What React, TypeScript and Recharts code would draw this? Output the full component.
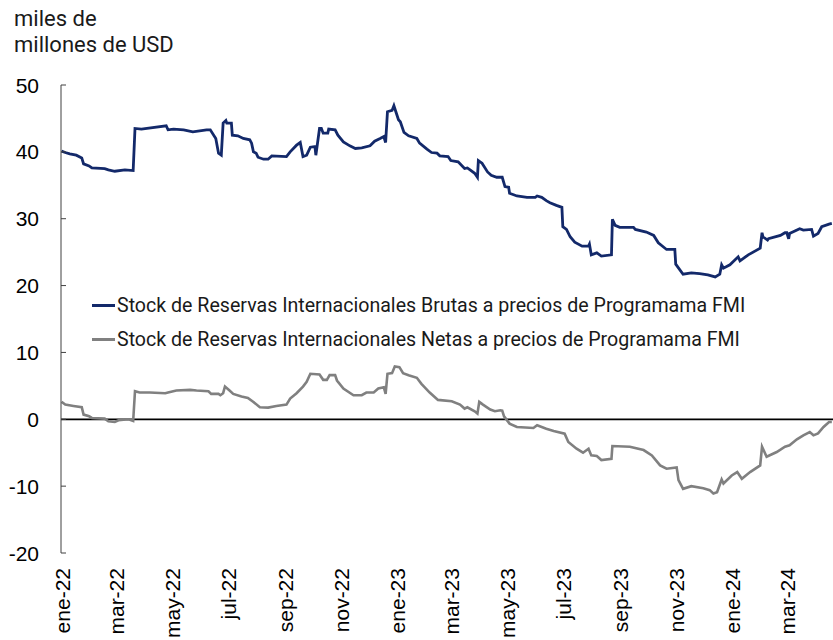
import React from 'react';
import { LineChart, Line, XAxis, YAxis, ReferenceLine, Legend } from 'recharts';

// Axis ticks: month labels (every 2 months) at days since 1 Jan 2022
const tickLabels = ['ene-22', 'mar-22', 'may-22', 'jul-22', 'sep-22', 'nov-22', 'ene-23', 'mar-23', 'may-23', 'jul-23', 'sep-23', 'nov-23', 'ene-24', 'mar-24'];
const tickDays = [0, 59, 120, 181, 243, 304, 365, 424, 485, 546, 608, 669, 730, 790];
const yTicks = [-20, -10, 0, 10, 20, 30, 40, 50];

const seriesNames = [
  'Stock de Reservas Internacionales Brutas a precios de Programama FMI',
  'Stock de Reservas Internacionales Netas a precios de Programama FMI',
];
const seriesColors = ['#13296a', '#808080'];

// Gross reserves (days since 1 Jan 2022, billions USD)
const brutasDays = [-1, 3, 8, 15, 21, 23, 29, 32, 46, 50, 57, 68, 77, 79, 86, 92, 113, 115, 121, 132, 142, 157, 161, 167, 170, 173, 175, 178, 179, 184, 185, 191, 197, 204, 206, 208, 211, 213, 219, 224, 228, 244, 248, 255, 259, 262, 266, 270, 275, 276, 280, 282, 284, 289, 290, 297, 300, 306, 313, 319, 326, 335, 340, 346, 350, 352, 354, 359, 361, 366, 368, 372, 377, 386, 389, 397, 402, 408, 411, 420, 423, 431, 438, 441, 444, 449, 452, 453, 457, 463, 467, 473, 479, 482, 486, 487, 495, 506, 515, 517, 522, 527, 531, 538, 544, 545, 549, 553, 558, 566, 573, 574, 576, 582, 587, 598, 599, 602, 607, 622, 624, 636, 644, 649, 658, 667, 668, 676, 685, 694, 703, 711, 716, 718, 720, 727, 736, 738, 747, 760, 762, 763, 768, 769, 782, 787, 789, 791, 792, 803, 807, 816, 818, 823, 827, 835, 838];
const brutasValues = [40.1, 39.9, 39.7, 39.5, 39.1, 38.2, 37.9, 37.6, 37.5, 37.3, 37.1, 37.3, 37.2, 43.5, 43.4, 43.5, 43.9, 43.3, 43.4, 43.3, 43.0, 43.3, 43.3, 42.0, 39.8, 39.5, 44.3, 44.7, 44.3, 44.3, 42.5, 42.4, 42.0, 41.8, 41.3, 40.0, 39.8, 39.2, 38.9, 38.9, 39.4, 39.3, 40.0, 41.0, 41.4, 39.3, 39.5, 40.7, 40.8, 39.5, 43.5, 43.5, 42.8, 42.8, 43.4, 43.3, 42.5, 41.5, 40.9, 40.5, 40.6, 40.9, 41.6, 42.0, 42.3, 41.4, 46.0, 46.2, 46.9, 44.8, 44.5, 42.9, 42.4, 42.0, 41.3, 40.4, 39.9, 39.8, 39.4, 39.3, 38.7, 38.5, 37.5, 37.6, 37.3, 36.8, 36.2, 38.7, 38.3, 37.0, 36.5, 36.2, 36.2, 34.8, 34.7, 33.8, 33.4, 33.2, 33.2, 33.4, 33.2, 32.7, 32.4, 32.0, 31.7, 28.8, 28.4, 27.3, 26.5, 25.9, 25.9, 26.2, 24.6, 24.9, 24.4, 24.6, 29.9, 29.0, 28.7, 28.7, 28.4, 28.0, 27.5, 26.4, 25.4, 25.4, 23.2, 21.7, 21.9, 21.8, 21.6, 21.3, 21.7, 23.1, 22.6, 23.1, 24.3, 23.7, 24.6, 25.6, 27.9, 27.3, 26.8, 27.0, 27.5, 27.9, 27.9, 27.0, 27.8, 28.5, 28.3, 28.4, 27.4, 27.8, 28.8, 29.2, 29.3];

// Net reserves (days since 1 Jan 2022, billions USD)
const netasDays = [-1, 3, 12, 21, 23, 29, 32, 46, 50, 57, 61, 72, 77, 79, 84, 95, 112, 115, 124, 139, 146, 159, 162, 170, 172, 175, 177, 182, 186, 195, 202, 208, 215, 224, 233, 244, 248, 255, 262, 266, 270, 280, 284, 288, 291, 297, 299, 306, 317, 326, 331, 339, 344, 350, 352, 354, 359, 362, 367, 371, 377, 386, 391, 400, 409, 424, 433, 438, 441, 449, 452, 454, 458, 466, 471, 477, 479, 481, 487, 495, 513, 517, 527, 535, 547, 551, 560, 567, 573, 576, 582, 587, 598, 599, 618, 633, 642, 651, 658, 669, 671, 676, 685, 698, 705, 709, 713, 718, 720, 729, 735, 740, 749, 760, 762, 767, 778, 787, 792, 800, 807, 814, 818, 823, 829, 835, 838];
const netasValues = [2.6, 2.2, 2.0, 1.8, 0.7, 0.45, 0.2, 0.1, -0.3, -0.4, -0.15, 0.0, -0.25, 4.2, 4.0, 4.0, 3.9, 4.0, 4.3, 4.4, 4.3, 4.2, 3.8, 3.8, 3.6, 3.9, 4.9, 4.3, 3.8, 3.4, 3.2, 2.6, 1.8, 1.75, 2.0, 2.2, 3.1, 3.9, 4.9, 5.6, 6.8, 6.7, 5.9, 5.9, 6.6, 6.6, 5.8, 4.6, 3.6, 3.6, 4.0, 4.0, 4.6, 4.8, 3.8, 6.8, 6.9, 7.9, 7.8, 6.9, 6.6, 6.2, 5.3, 4.0, 2.9, 2.7, 2.2, 1.6, 1.8, 1.2, 0.85, 2.6, 2.2, 1.45, 1.2, 1.35, 1.3, 0.45, -0.65, -1.15, -1.3, -0.9, -1.4, -1.75, -2.15, -3.4, -4.4, -5.0, -4.4, -5.4, -5.5, -6.1, -5.9, -4.0, -4.1, -4.6, -5.4, -6.9, -7.4, -7.2, -9.1, -10.4, -10.0, -10.3, -10.6, -11.1, -10.9, -9.0, -9.6, -8.4, -7.9, -8.9, -7.9, -6.9, -4.1, -5.6, -4.9, -4.1, -3.9, -3.0, -2.4, -1.9, -2.4, -2.1, -1.15, -0.4, -0.4];

const brutasData = brutasDays.map((d, i) => ({ day: d, value: brutasValues[i] }));
const netasData = netasDays.map((d, i) => ({ day: d, value: netasValues[i] }));

const AXIS_FONT = '"Liberation Sans", Arial, sans-serif';
const TEXT_FONT = 'Roboto, "Noto Sans", sans-serif';

const XTick = (props: any) => {
  const { x, y, payload } = props;
  const idx = tickDays.indexOf(payload.value);
  const label = idx >= 0 ? tickLabels[idx] : '';
  return (
    <text
      x={x}
      y={y}
      transform={`rotate(-90, ${x}, ${y})`}
      textAnchor="end"
      dy="0.35em"
      fontFamily={AXIS_FONT}
      fontSize={21}
      fill="#000"
    >
      {label}
    </text>
  );
};

const YTick = (props: any) => {
  const { x, y, payload } = props;
  const axisX = x + 22;
  return (
    <g>
      <line x1={axisX} x2={axisX + 5} y1={y} y2={y} stroke="#404040" strokeWidth={1} />
      <text x={x} y={y} dy="0.36em" textAnchor="end" fontFamily={AXIS_FONT} fontSize={21} fill="#000">
        {payload.value}
      </text>
    </g>
  );
};

const LegendContent = () => (
  <div style={{ fontFamily: TEXT_FONT, fontSize: 19.6, color: '#1a1a1a' }}>
    {seriesNames.map((n, i) => (
      <div key={n} style={{ display: 'flex', alignItems: 'center', height: 34, whiteSpace: 'nowrap' }}>
        <div style={{ width: 23, height: 3, background: seriesColors[i], marginRight: 2 }} />
        <span>{n}</span>
      </div>
    ))}
  </div>
);

export default function App() {
  return (
    <div style={{ position: 'relative', width: 833, height: 640, background: '#fff' }}>
      <style>{'body{margin:0;}'}</style>
      <div
        style={{
          position: 'absolute',
          left: 14,
          top: 6,
          fontFamily: TEXT_FONT,
          fontSize: 22,
          lineHeight: '26px',
          color: '#1a1a1a',
          zIndex: 2,
        }}
      >
        miles de
        <br />
        millones de USD
      </div>
      <LineChart width={833} height={640} margin={{ top: 85, right: 0, left: 0, bottom: 0 }}>
        <XAxis
          type="number"
          dataKey="day"
          domain={[-1.6, 839.3]}
          allowDataOverflow
          ticks={tickDays}
          interval={0}
          axisLine={false}
          tickLine={false}
          tickSize={0}
          tickMargin={15}
          height={87}
          tick={<XTick />}
        />
        <YAxis
          type="number"
          domain={[-20, 50]}
          ticks={yTicks}
          interval={0}
          width={61}
          axisLine={{ stroke: '#404040', strokeWidth: 1 }}
          tickLine={false}
          tickSize={0}
          tickMargin={22}
          tick={<YTick />}
        />
        <ReferenceLine y={0} stroke="#000" strokeWidth={1.8} />
        <Line
          data={brutasData}
          dataKey="value"
          name={seriesNames[0]}
          type="linear"
          stroke={seriesColors[0]}
          strokeWidth={2.8}
          dot={false}
          activeDot={false}
          isAnimationActive={false}
        />
        <Line
          data={netasData}
          dataKey="value"
          name={seriesNames[1]}
          type="linear"
          stroke={seriesColors[1]}
          strokeWidth={2.6}
          dot={false}
          activeDot={false}
          isAnimationActive={false}
        />
        <Legend
          layout="vertical"
          align="center"
          verticalAlign="middle"
          content={<LegendContent />}
          wrapperStyle={{ left: 92, top: 288, width: 'auto' }}
        />
      </LineChart>
    </div>
  );
}
